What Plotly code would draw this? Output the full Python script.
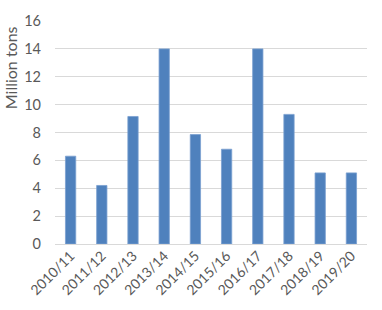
import plotly.graph_objects as go

categories = ["2010/11", "2011/12", "2012/13", "2013/14", "2014/15",
              "2015/16", "2016/17", "2017/18", "2018/19", "2019/20"]
values = [6.3, 4.2, 9.15, 14.0, 7.85, 6.8, 14.0, 9.3, 5.1, 5.1]
y_ticks = [0, 2, 4, 6, 8, 10, 12, 14, 16]

fig = go.Figure(go.Bar(
    x=categories, y=values,
    marker=dict(color="#4f81bd", line=dict(color="#7a9fd0", width=0.8)),
    width=0.33,
))

grey = "#595959"
fig.update_layout(
    width=382, height=310,
    margin=dict(l=55, r=15, t=14, b=65),
    paper_bgcolor="white", plot_bgcolor="white",
    font=dict(family="Lato, Open Sans, sans-serif", size=14, color=grey),
    showlegend=False,
    bargap=0.67,
)
fig.update_xaxes(
    tickangle=-45, tickfont=dict(size=14, color=grey),
    showgrid=False, showline=False, ticks="",
)
fig.update_yaxes(
    range=[0, 16], tickvals=y_ticks,
    showgrid=True, gridcolor="#d9d9d9", gridwidth=1,
    zeroline=True, zerolinecolor="#d9d9d9", zerolinewidth=1,
    tickfont=dict(size=14.5, color=grey),
    ticks="", ticklabelstandoff=13,
)
fig.add_annotation(
    text="Million tons", textangle=-90,
    xref="paper", yref="paper", x=-0.14, y=0.985,
    xanchor="center", yanchor="top", showarrow=False,
    font=dict(size=16, color=grey),
)
fig.write_html("out.html")
